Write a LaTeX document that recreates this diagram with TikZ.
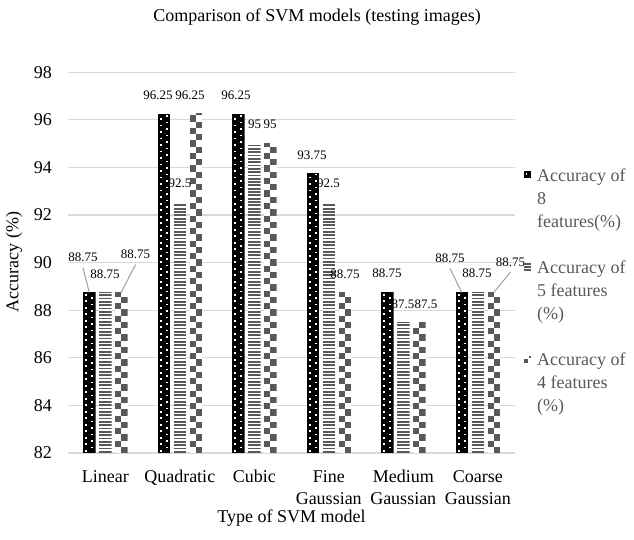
\documentclass[tikz,border=0pt]{standalone}
\usepackage{fontspec}
\setmainfont{Liberation Serif}
\definecolor{gridgray}{HTML}{D9D9D9}
\definecolor{patgray}{HTML}{595959}
\definecolor{leadgray}{HTML}{A6A6A6}
\newcommand{\myBlackBar}[2]{%
  \pgfmathsetmacro{\myL}{#1-6.25}\pgfmathsetmacro{\myR}{#1+6.25}%
  \pgfmathsetmacro{\myT}{453-(#2-82)*23.8}%
  \begin{scope}
    \clip (\myL,\myT) rectangle (\myR,453);
    \fill[black] (\myL,\myT) rectangle (\myR,453);
    \foreach \k in {0,...,106}{%
      \pgfmathsetmacro{\yy}{451.5-\k*3.25}%
      \pgfmathsetmacro{\xx}{isodd(\k)?\myL+8.3:\myL+2.3}%
      \fill[white] (\xx,\yy) rectangle ++(1.7,-1.7);}
  \end{scope}}
\newcommand{\myStripeBar}[2]{%
  \pgfmathsetmacro{\myL}{#1-6.25}\pgfmathsetmacro{\myR}{#1+6.25}%
  \pgfmathsetmacro{\myT}{453-(#2-82)*23.8}%
  \begin{scope}
    \clip (\myL,\myT) rectangle (\myR,453);
    \fill[white] (\myL,\myT) rectangle (\myR,453);
    \foreach \k in {0,...,105}{%
      \pgfmathsetmacro{\yy}{452.6-\k*3.33}%
      \fill[patgray] (\myL,\yy) rectangle (\myR,\yy-1.7);}
  \end{scope}}
\newcommand{\myCheckBar}[2]{%
  \pgfmathsetmacro{\myL}{#1-6.25}\pgfmathsetmacro{\myR}{#1+6.25}%
  \pgfmathsetmacro{\myT}{453-(#2-82)*23.8}%
  \begin{scope}
    \clip (\myL,\myT) rectangle (\myR,453);
    \fill[white] (\myL,\myT) rectangle (\myR,453);
    \foreach \k in {0,...,55}{%
      \pgfmathsetmacro{\yy}{453-\k*6.25}%
      \pgfmathsetmacro{\xx}{isodd(\k)?\myL:\myL+6.25}%
      \fill[patgray] (\xx,\yy) rectangle ++(6.25,-6.25);}
  \end{scope}}
\tikzset{
  gridline/.style={draw=gridgray, line width=1.3pt},
  bigtext/.style={font=\fontsize{18}{22}\selectfont, inner sep=0pt},
  ticklbl/.style={bigtext, anchor=east},
  catlbl/.style={bigtext, anchor=north, align=center},
  datalbl/.style={font=\fontsize{13}{15}\selectfont, inner sep=0pt},
  leader/.style={draw=leadgray, line width=1.1pt},
  legtext/.style={font=\fontsize{18}{23}\selectfont, inner sep=0pt, anchor=north west, align=left, text=patgray},
}
\begin{document}
\begin{tikzpicture}[x=1pt,y=-1pt]
\useasboundingbox (0,0) rectangle (634,540);
\fill[white] (0,0) rectangle (634,540);
% gridlines and ticks
\foreach \v in {82,84,...,98}{%
  \pgfmathsetmacro{\gy}{453-(\v-82)*23.8}
  \draw[gridline] (68,\gy) -- (515,\gy);
  \node[ticklbl] (tick\v) at (52,\gy) {\v};}
% bars
\myBlackBar{89.25}{88.75}\myStripeBar{105.25}{88.75}\myCheckBar{121.25}{88.75}
\myBlackBar{163.75}{96.25}\myStripeBar{179.75}{92.5}\myCheckBar{195.75}{96.25}
\myBlackBar{238.25}{96.25}\myStripeBar{254.25}{95}\myCheckBar{270.25}{95}
\myBlackBar{312.75}{93.75}\myStripeBar{328.75}{92.5}\myCheckBar{344.75}{88.75}
\myBlackBar{387.25}{88.75}\myStripeBar{403.25}{87.5}\myCheckBar{419.25}{87.5}
\myBlackBar{461.75}{88.75}\myStripeBar{477.75}{88.75}\myCheckBar{493.75}{88.75}
% data labels
\node[datalbl] (l1) at (83,257) {88.75};
\node[datalbl] (l2) at (105,274) {88.75};
\node[datalbl] (l3) at (135.5,254) {88.75};
\node[datalbl] (q1) at (158,95) {96.25};
\node[datalbl] (q2) at (180,183) {92.5};
\node[datalbl] (q3) at (190,95) {96.25};
\node[datalbl] (c1) at (236,95) {96.25};
\node[datalbl] (c2) at (254.5,124) {95};
\node[datalbl] (c3) at (270,124) {95};
\node[datalbl] (f1) at (312,155) {93.75};
\node[datalbl] (f2) at (328.5,183) {92.5};
\node[datalbl] (f3) at (345,274) {88.75};
\node[datalbl] (m1) at (387,273) {88.75};
\node[datalbl] (m2) at (403,304) {87.5};
\node[datalbl] (m3) at (426,304) {87.5};
\node[datalbl] (k1) at (450,258) {88.75};
\node[datalbl] (k2) at (477,273) {88.75};
\node[datalbl] (k3) at (510.5,262) {88.75};
% leader lines
\coordinate (tl1) at (89.25,292.4);
\coordinate (tl3) at (121.25,292.4);
\coordinate (tk1) at (461.75,292.4);
\coordinate (tk3) at (493.75,292.4);
\draw[leader] (l1.south) ++(0,6) -- (tl1);
\draw[leader] (l3.south) ++(0,6) -- (tl3);
\draw[leader] (k1.south) ++(0,6) -- (tk1);
\draw[leader] (k3.south) ++(0,5.5) -- (tk3);
% category labels
\node[catlbl] (cat1) at (105.25,470) {Linear};
\node[catlbl] (cat2) at (179.75,470) {Quadratic};
\node[catlbl] (cat3) at (254.25,470) {Cubic};
\node[catlbl] (cat4) at (328.75,470) {Fine\\Gaussian};
\node[catlbl] (cat5) at (403.25,470) {Medium\\Gaussian};
\node[catlbl] (cat6) at (477.75,470) {Coarse\\Gaussian};
% titles
\node[bigtext] (title) at (317,17) {Comparison of SVM models (testing images)};
\node[bigtext, rotate=90] (ytitle) at (14,262) {Accuracy (\%)};
\node[bigtext] (xtitle) at (291.5,518) {Type of SVM model};
% legend
\fill[black] (524,171.5) rectangle (531,178.5);
\fill[white] (525.5,173) rectangle ++(1.7,1.7);
\node[legtext] (leg1) at (537,168.5) {Accuracy of\\8\\features(\%)};
\foreach \dy in {-3,0,3}{\fill[patgray] (524,267+\dy-0.7) rectangle (531,267+\dy+0.7);}
\node[legtext] (leg2) at (537,260.5) {Accuracy of\\5 features\\(\%)};
\fill[patgray] (524,359) rectangle (528,363);
\fill[patgray] (529,355.5) rectangle (531,357.5);
\node[legtext] (leg3) at (537,352.5) {Accuracy of\\4 features\\(\%)};
\end{tikzpicture}
\end{document}
